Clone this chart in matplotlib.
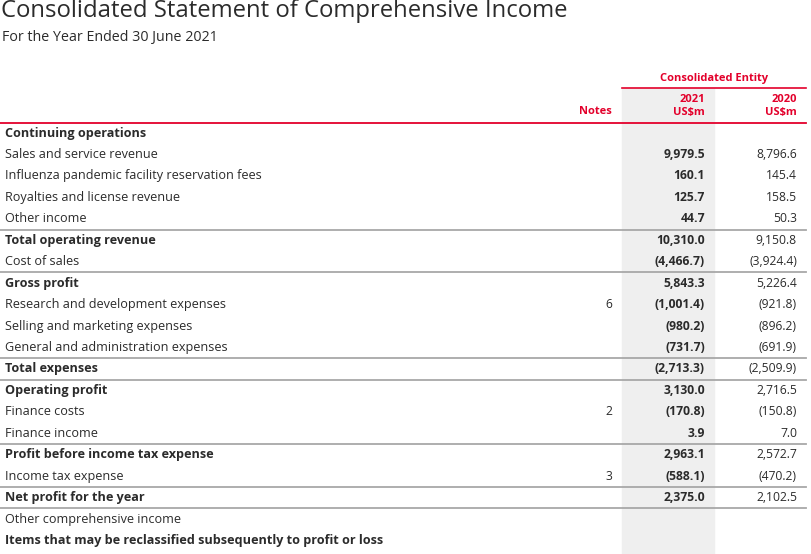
import matplotlib.pyplot as plt
from matplotlib.patches import Rectangle

plt.rcParams['font.family'] = ['Open Sans', 'DejaVu Sans']

# table data
labels = ['Continuing operations', 'Sales and service revenue',
          'Influenza pandemic facility reservation fees', 'Royalties and license revenue',
          'Other income', 'Total operating revenue', 'Cost of sales', 'Gross profit',
          'Research and development expenses', 'Selling and marketing expenses',
          'General and administration expenses', 'Total expenses', 'Operating profit',
          'Finance costs', 'Finance income', 'Profit before income tax expense',
          'Income tax expense', 'Net profit for the year', 'Other comprehensive income',
          'Items that may be reclassified subsequently to profit or loss']
notes = ['', '', '', '', '', '', '', '', '6', '', '', '', '', '2', '', '', '3', '', '', '']
vals_2021 = ['', '9,979.5', '160.1', '125.7', '44.7', '10,310.0', '(4,466.7)', '5,843.3',
             '(1,001.4)', '(980.2)', '(731.7)', '(2,713.3)', '3,130.0', '(170.8)', '3.9',
             '2,963.1', '(588.1)', '2,375.0', '', '']
vals_2020 = ['', '8,796.6', '145.4', '158.5', '50.3', '9,150.8', '(3,924.4)', '5,226.4',
             '(921.8)', '(896.2)', '(691.9)', '(2,509.9)', '2,716.5', '(150.8)', '7.0',
             '2,572.7', '(470.2)', '2,102.5', '', '']
bold_rows = [0, 5, 7, 11, 12, 15, 17, 19]
line_above = [5, 7, 11, 12, 15, 17, 18]

red = '#e3002b'
txt = '#2b2b2b'

fig = plt.figure(figsize=(8.12, 5.54), dpi=100)
ax = fig.add_axes([0, 0, 1, 1])
ax.set_xlim(0, 812)
ax.set_ylim(554, 0)
ax.axis('off')

# shaded 2021 column
ax.add_patch(Rectangle((622, 88), 92, 466, color='#efefef', zorder=0))

ax.text(1, 11, 'Consolidated Statement of Comprehensive Income', fontsize=17.2,
        color=txt, va='center', ha='left')
ax.text(2, 38, 'For the Year Ended 30 June 2021', fontsize=10.3, color=txt,
        va='center', ha='left')

# header
ax.text(714, 78, 'Consolidated Entity', fontsize=8, color=red, fontweight='bold',
        ha='center', va='center')
ax.plot([622, 806], [88, 88], color=red, lw=1.2)
ax.text(612, 112, 'Notes', fontsize=8, color=red, fontweight='bold', ha='right', va='center')
ax.text(705, 99, '2021', fontsize=8, color=red, fontweight='bold', ha='right', va='center')
ax.text(705, 112, 'US$m', fontsize=8, color=red, fontweight='bold', ha='right', va='center')
ax.text(797, 99, '2020', fontsize=8, color=red, fontweight='bold', ha='right', va='center')
ax.text(797, 112, 'US$m', fontsize=8, color=red, fontweight='bold', ha='right', va='center')
ax.plot([0, 806], [122.5, 122.5], color=red, lw=1.3)

# rows
y0 = 133
step = 21.45
for i, lab in enumerate(labels):
    y = y0 + i * step
    w = 'bold' if i in bold_rows else 'normal'
    ax.text(5, y, lab, fontsize=9.1, color=txt, fontweight=w, ha='left', va='center')
    ax.text(612, y, notes[i], fontsize=8.7, color=txt, ha='right', va='center')
    ax.text(705, y, vals_2021[i], fontsize=8.7, color=txt, fontweight='bold',
            ha='right', va='center')
    ax.text(797, y, vals_2020[i], fontsize=8.7, color=txt, ha='right', va='center')
    if i in line_above:
        ly = y - step / 2
        ax.plot([0, 806], [ly, ly], color='#a8a8a8', lw=1.3)

fig.savefig('out.png', dpi=100)
